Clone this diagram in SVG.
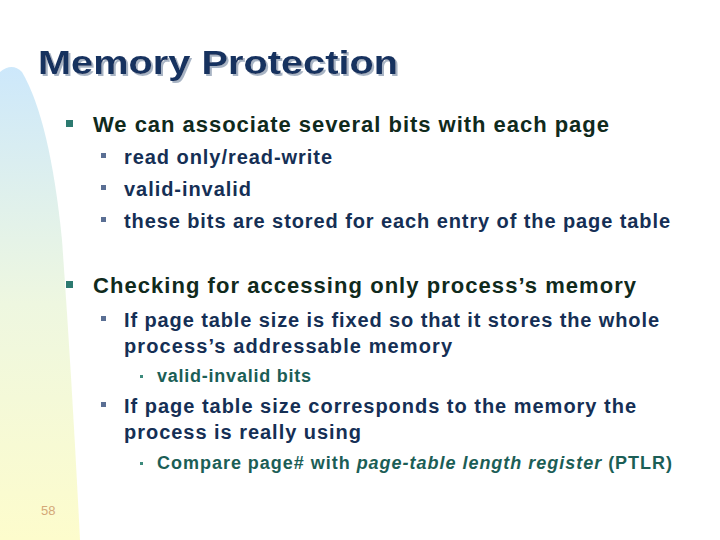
<svg xmlns="http://www.w3.org/2000/svg" width="720" height="540" viewBox="0 0 720 540">
<defs>
<linearGradient id="bg" x1="0" y1="0" x2="0" y2="1">
<stop offset="0" stop-color="#cde8fb"/>
<stop offset="0.5" stop-color="#eef7e0"/>
<stop offset="1" stop-color="#fdfccc"/>
</linearGradient>
<filter id="sh" x="-5%" y="-20%" width="110%" height="140%">
<feDropShadow dx="2" dy="2" stdDeviation="0" flood-color="#a8b4c4"/>
</filter>
<style>
text{font-family:"Liberation Sans",Arial,sans-serif;font-weight:bold}
.t{font-size:34px;fill:#16305e}
.l1{font-size:22px;fill:#102a1c}
.l2{font-size:20px;fill:#152f55}
.l3{font-size:18px;fill:#1b5e56}
.b1{fill:#2c7a70}
.b2{fill:#5a6f94}
.b3{fill:#3c8a7c}
</style>
</defs>
<rect width="720" height="540" fill="#fff"/>
<path d="M0,72 Q12,62 22,72 Q50,120 62,240 Q72,380 80,540 L0,540 Z" fill="url(#bg)"/>
<g id="title">
<text class="t" x="38" y="74" textLength="360" lengthAdjust="spacingAndGlyphs" filter="url(#sh)">Memory Protection</text>
</g>
<g id="body">
<rect class="b1" x="66" y="120" width="7" height="7"/>
<text class="l1" x="93" y="132" textLength="516">We can associate several bits with each page</text>
<rect class="b2" x="101" y="153" width="5" height="5"/>
<text class="l2" x="124" y="164" textLength="208">read only/read-write</text>
<rect class="b2" x="101" y="185" width="5" height="5"/>
<text class="l2" x="124" y="196" textLength="127">valid-invalid</text>
<rect class="b2" x="101" y="217" width="5" height="5"/>
<text class="l2" x="124" y="228" textLength="546">these bits are stored for each entry of the page table</text>
<rect class="b1" x="66" y="281" width="7" height="7"/>
<text class="l1" x="93" y="293" textLength="543">Checking for accessing only process’s memory</text>
<rect class="b2" x="101" y="316" width="5" height="5"/>
<text class="l2" x="124" y="327" textLength="535">If page table size is fixed so that it stores the whole</text>
<text class="l2" x="124" y="353" textLength="328">process’s addressable memory</text>
<rect class="b3" x="140" y="375" width="3" height="3"/>
<text class="l3" x="157" y="382" textLength="154">valid-invalid bits</text>
<rect class="b2" x="101" y="402" width="5" height="5"/>
<text class="l2" x="124" y="413" textLength="512">If page table size corresponds to the memory the</text>
<text class="l2" x="124" y="439" textLength="237">process is really using</text>
<rect class="b3" x="140" y="462" width="3" height="3"/>
<text class="l3" x="157" y="469" textLength="515">Compare page# with <tspan font-style="italic">page-table length register</tspan> (PTLR)</text>
<text x="41" y="515" style="font-size:13px;font-weight:normal;fill:#d4a878">58</text>
</g>
</svg>
